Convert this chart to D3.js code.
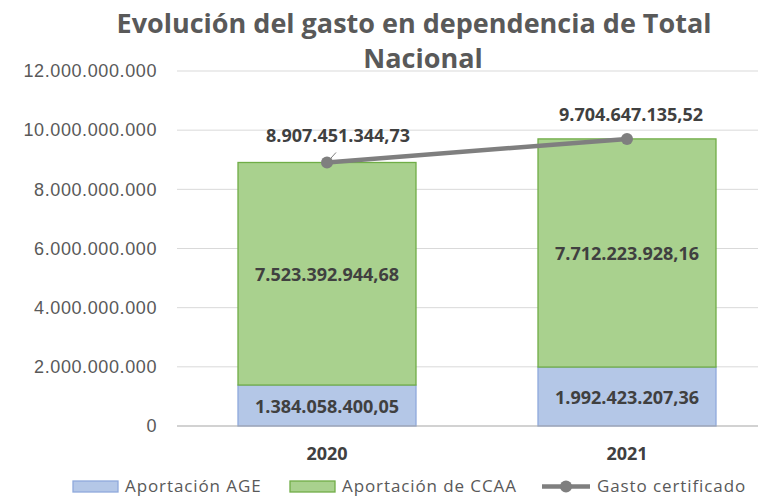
<!DOCTYPE html>
<html>
<head>
<meta charset="utf-8">
<script src="https://cdn.jsdelivr.net/npm/d3@7"></script>
<style>
  html, body { margin: 0; padding: 0; background: #fff; }
  svg { display: block; font-family: "Open Sans", "Noto Sans", sans-serif; }
  .tick text { fill: #595959; font-size: 18px; letter-spacing: 0.6px; }
  .val { fill: #404040; font-size: 18px; font-weight: 700; }
</style>
</head>
<body>
<svg id="chart" width="758" height="497"></svg>
<script>
const years = ["2020", "2021"];
const age = [1384058400.05, 1992423207.36];
const ccaa = [7523392944.68, 7712223928.16];
const total = [8907451344.73, 9704647135.52];
const yTicks = [0, 2e9, 4e9, 6e9, 8e9, 10e9, 12e9];
const titleLines = ["Evolución del gasto en dependencia de Total", "Nacional"];
const legendItems = ["Aportación AGE", "Aportación de CCAA", "Gasto certificado"];

const svg = d3.select("#chart");
const fmtInt = d => d3.format(",")(d).replace(/,/g, ".");
const fmtDec = d => {
  const s = d3.format(",.2f")(d);
  return s.replace(/,/g, "#").replace(".", ",").replace(/#/g, ".");
};

const x = d3.scaleBand().domain(years).range([177, 777]).paddingInner(0).paddingOuter(0);
const y = d3.scaleLinear().domain([0, 12e9]).range([426, 71]);
const barW = 178;

// gridlines
svg.append("g").selectAll("line").data(yTicks.slice(1)).join("line")
  .attr("x1", 177).attr("x2", 758)
  .attr("y1", d => y(d)).attr("y2", d => y(d))
  .attr("stroke", "#d9d9d9").attr("stroke-width", 1);

// y axis labels
const yAxis = svg.append("g").attr("transform", "translate(175,0)")
  .call(d3.axisLeft(y).tickValues(yTicks).tickFormat(fmtInt).tickSize(0).tickPadding(18));
yAxis.select(".domain").remove();

// bars
const cx = d => x(d) + x.bandwidth() / 2;
svg.append("g").selectAll("rect").data(years).join("rect")
  .attr("x", d => cx(d) - barW / 2).attr("width", barW)
  .attr("y", (d, i) => y(age[i])).attr("height", (d, i) => y(0) - y(age[i]))
  .attr("fill", "#b4c7e7").attr("stroke", "#8faadc").attr("stroke-width", 1.3);
svg.append("g").selectAll("rect").data(years).join("rect")
  .attr("x", d => cx(d) - barW / 2).attr("width", barW)
  .attr("y", (d, i) => y(age[i] + ccaa[i])).attr("height", (d, i) => y(age[i]) - y(age[i] + ccaa[i]))
  .attr("fill", "#a9d18e").attr("stroke", "#70ad47").attr("stroke-width", 1.3);

// x axis
svg.append("line").attr("x1", 177).attr("x2", 758).attr("y1", y(0)).attr("y2", y(0))
  .attr("stroke", "#a6a6a6").attr("stroke-width", 1.2);
svg.append("g").selectAll("text").data(years).join("text")
  .attr("x", cx).attr("y", 460).attr("text-anchor", "middle")
  .attr("class", "val").text(d => d);

// bar labels
svg.append("g").selectAll("text").data(years).join("text")
  .attr("class", "val").attr("text-anchor", "middle")
  .attr("x", cx).attr("y", (d, i) => (y(0) + y(age[i])) / 2 + 7)
  .text((d, i) => fmtDec(age[i]));
svg.append("g").selectAll("text").data(years).join("text")
  .attr("class", "val").attr("text-anchor", "middle")
  .attr("x", cx).attr("y", (d, i) => (y(age[i]) + y(age[i] + ccaa[i])) / 2 + 7)
  .text((d, i) => fmtDec(ccaa[i]));

// total line
const pts = years.map((d, i) => [cx(d), y(total[i])]);
svg.append("line")
  .attr("x1", pts[0][0] + 9).attr("y1", pts[0][1] - 10)
  .attr("x2", pts[0][0]).attr("y2", pts[0][1])
  .attr("stroke", "#7f7f7f").attr("stroke-width", 1);
svg.append("path").attr("d", d3.line()(pts))
  .attr("fill", "none").attr("stroke", "#7f7f7f").attr("stroke-width", 4.5);
svg.append("g").selectAll("circle").data(pts).join("circle")
  .attr("cx", d => d[0]).attr("cy", d => d[1]).attr("r", 6).attr("fill", "#7f7f7f");
const totalOffset = [[11, -20], [4, -18]];
svg.append("g").selectAll("text").data(years).join("text")
  .attr("class", "val").attr("text-anchor", "middle")
  .attr("x", (d, i) => pts[i][0] + totalOffset[i][0])
  .attr("y", (d, i) => pts[i][1] + totalOffset[i][1])
  .text((d, i) => fmtDec(total[i]));

// title
svg.append("g").selectAll("text").data(titleLines).join("text")
  .attr("x", (d, i) => i === 0 ? 414 : 423).attr("y", (d, i) => 33 + i * 35)
  .attr("text-anchor", "middle")
  .attr("fill", "#595959").attr("font-size", 27).attr("font-weight", 700)
  .text(d => d);

// legend
const leg = svg.append("g").attr("font-size", 17).attr("fill", "#595959")
  .attr("letter-spacing", "0.9px");
const swX = [73, 290];
const swFill = ["#b4c7e7", "#a9d18e"];
const swStroke = ["#8faadc", "#70ad47"];
swX.forEach((sx, i) => {
  leg.append("rect").attr("x", sx).attr("y", 481).attr("width", 45).attr("height", 11)
    .attr("fill", swFill[i]).attr("stroke", swStroke[i]).attr("stroke-width", 1.3);
  leg.append("text").attr("x", sx + 52).attr("y", 492).text(legendItems[i]);
});
leg.append("line").attr("x1", 542).attr("x2", 590).attr("y1", 486.5).attr("y2", 486.5)
  .attr("stroke", "#7f7f7f").attr("stroke-width", 4.5);
leg.append("circle").attr("cx", 566).attr("cy", 486.5).attr("r", 6).attr("fill", "#7f7f7f");
leg.append("text").attr("x", 597).attr("y", 492).text(legendItems[2]);
</script>
</body>
</html>
